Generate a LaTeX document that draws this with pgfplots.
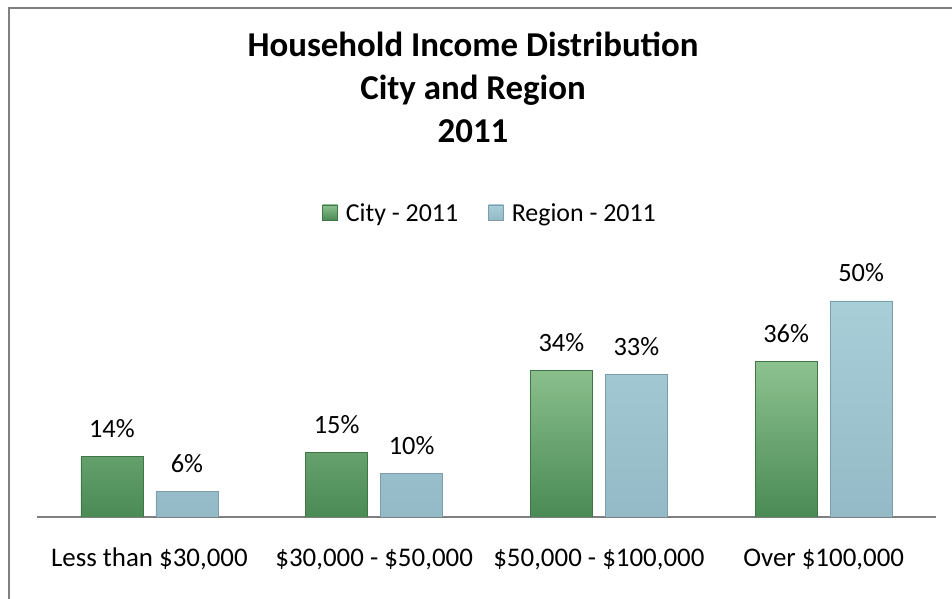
\documentclass[border=0pt]{standalone}
\usepackage{pgfplots}
\pgfplotsset{compat=1.18}
\usepackage{fontspec}
\setmainfont{Carlito}
\definecolor{gtop}{HTML}{8DC28F}
\definecolor{gbot}{HTML}{4A8A55}
\definecolor{btop}{HTML}{A8CED8}
\definecolor{bbot}{HTML}{93BAC6}
\definecolor{frame}{HTML}{7F7F7F}
\begin{document}
\begin{tikzpicture}[x=1bp,y=1bp]
\useasboundingbox (0,0) rectangle (952,599);
\draw[frame, line width=2bp] (9,0) |- (952,591);
\node[anchor=base, font=\fontsize{35}{42}\selectfont\bfseries] at (473,542) {Household Income Distribution};
\node[anchor=base, font=\fontsize{35}{42}\selectfont\bfseries] at (473,499) {City and Region};
\node[anchor=base, font=\fontsize{35}{42}\selectfont\bfseries] at (473,456) {2011};
\begin{axis}[
  at={(37bp,82bp)}, anchor=south west,
  scale only axis, width=899bp, height=259.2bp,
  xmin=-0.5, xmax=3.5, ymin=0, ymax=60,
  axis y line=none, axis x line=bottom,
  x axis line style={-, draw=frame, line width=1.6bp},
  xtick=data, major tick length=0pt,
  xticklabels={{Less than \$30,000}, {\$30,000 - \$50,000}, {\$50,000 - \$100,000}, {Over \$100,000}},
  xticklabel style={anchor=base, yshift=-50bp, font=\fontsize{27}{32}\selectfont},
  /pgf/number format/assume math mode=true,
  ybar, bar width=62bp,
  nodes near coords={\pgfmathprintnumber{\pgfplotspointmeta}\%},
  every node near coord/.append style={anchor=base, yshift=19bp, font=\fontsize{26.5}{31}\selectfont, black},
  legend columns=2,
  legend style={at={(0.504,1.173)}, anchor=center, draw=none, fill=none,
    font=\fontsize{26}{31}\selectfont,
    /tikz/every odd column/.append style={column sep=6bp},
    /tikz/every even column/.append style={column sep=28bp}},
  legend image code/.code={\fill[#1] (0bp,-7bp) rectangle (15bp,8bp);},
]
\addplot[draw=gbot!85!black, line width=0.6bp, top color=gtop, bottom color=gbot, bar shift=-37.5bp] coordinates {(0,14) (1,15) (2,34) (3,36)};
\addlegendentry{City - 2011}
\addplot[draw=bbot!85!black, line width=0.6bp, top color=btop, bottom color=bbot, bar shift=37.5bp] coordinates {(0,6) (1,10) (2,33) (3,50)};
\addlegendentry{Region - 2011}
\end{axis}
\end{tikzpicture}
\end{document}
